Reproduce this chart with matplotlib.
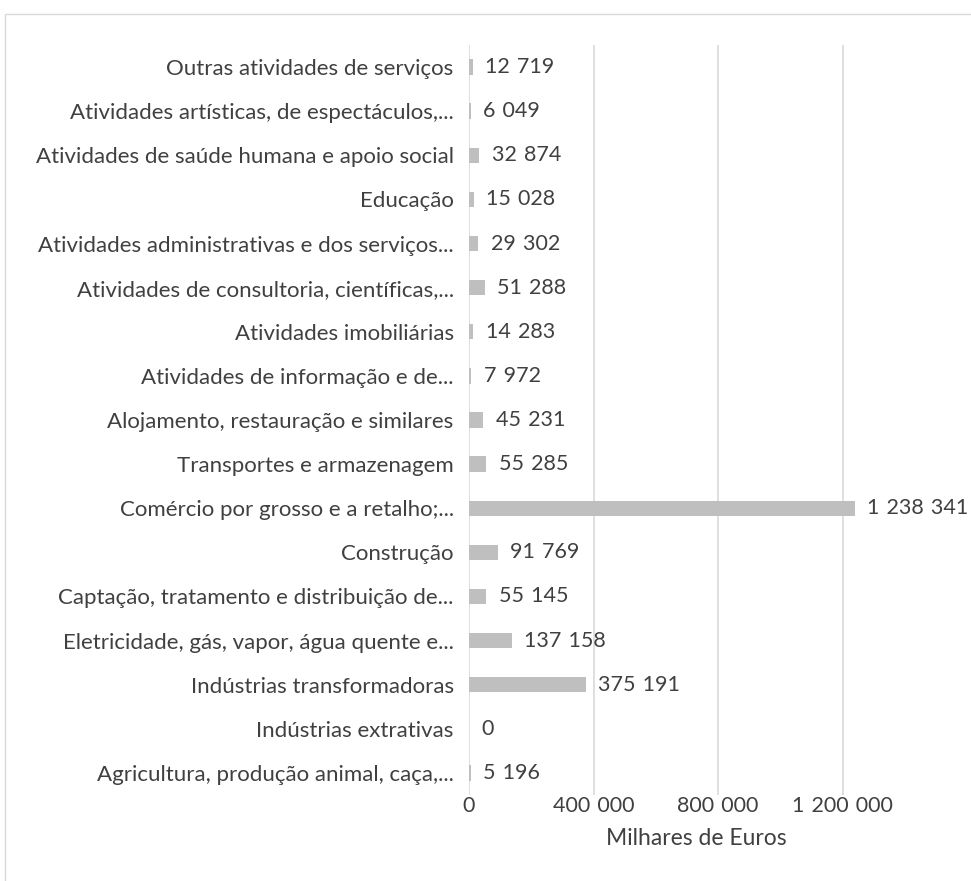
import matplotlib
matplotlib.use("Agg")
import matplotlib.pyplot as plt
from matplotlib.patches import Rectangle

categories = [
    "Agricultura, produção animal, caça,...",
    "Indústrias extrativas",
    "Indústrias transformadoras",
    "Eletricidade, gás, vapor, água quente e...",
    "Captação, tratamento e distribuição de...",
    "Construção",
    "Comércio por grosso e a retalho;...",
    "Transportes e armazenagem",
    "Alojamento, restauração e similares",
    "Atividades de informação e de...",
    "Atividades imobiliárias",
    "Atividades de consultoria, científicas,...",
    "Atividades administrativas e dos serviços...",
    "Educação",
    "Atividades de saúde humana e apoio social",
    "Atividades artísticas, de espectáculos,...",
    "Outras atividades de serviços",
]
values = [5196, 0, 375191, 137158, 55145, 91769, 1238341, 55285, 45231,
          7972, 14283, 51288, 29302, 15028, 32874, 6049, 12719]
xticks = [0, 400000, 800000, 1200000]
xlabel = "Milhares de Euros"


def fmt(v):
    return f"{v:,}".replace(",", "\u2004")


plt.rcParams["font.family"] = ["Lato", "DejaVu Sans"]
TXT = "#404040"
FS = 16

fig = plt.figure(figsize=(9.71, 8.81), dpi=100)
fig.patches.append(Rectangle((5 / 971, -0.1), 1.2, 1.1 - 14 / 881,
                             transform=fig.transFigure, fill=False,
                             edgecolor="#d9d9d9", linewidth=1.0))
ax = fig.add_axes([469 / 971, 1 - 795 / 881, 436 / 971, 750 / 881])

y = range(len(categories))
ax.barh(y, values, height=0.35, color="#bfbfbf", zorder=2)
for yi, v in zip(y, values):
    ax.annotate(fmt(v), (v, yi), xytext=(9, 0), textcoords="offset points",
                va="center", ha="left", fontsize=FS - 0.5, color=TXT,
                annotation_clip=False)

ax.set_xlim(0, 1400000)
ax.set_ylim(-0.5, len(categories) - 0.5)
ax.set_yticks(list(y))
ax.set_yticklabels(categories, fontsize=FS, color=TXT)
ax.set_xticks(xticks)
ax.set_xticklabels([fmt(t) for t in xticks], fontsize=FS - 0.5, color=TXT)
ax.tick_params(length=0)
ax.tick_params(axis="x", pad=1)
ax.tick_params(axis="y", pad=11)
ax.xaxis.grid(True, color="#d9d9d9", linewidth=1.2, zorder=0)
ax.set_axisbelow(True)
for s in ax.spines.values():
    s.set_visible(False)
ax.set_xlabel(xlabel, fontsize=FS + 0.5, color=TXT)
ax.xaxis.set_label_coords((696 - 469) / 436, -(828 - 795) / 750)

fig.savefig("out.png", dpi=100)
